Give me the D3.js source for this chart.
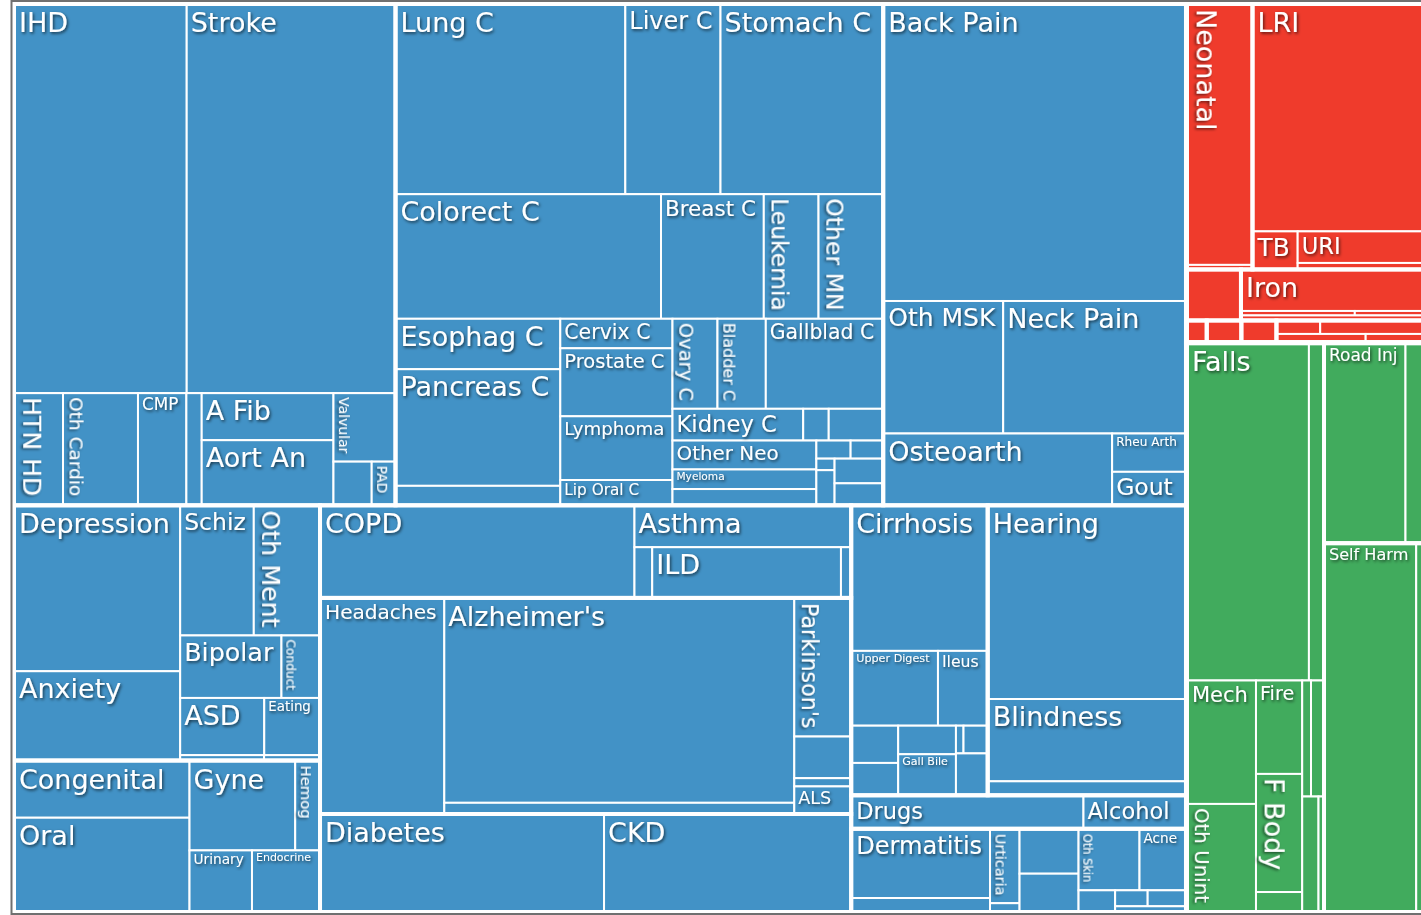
<!DOCTYPE html>
<html><head><meta charset="utf-8">
<script src="https://cdn.jsdelivr.net/npm/d3@7"></script>
<style>
html,body{margin:0;padding:0;background:#fff;}
svg{display:block;}
text.lbl{fill:#fff;font-family:'DejaVu Sans',Verdana,sans-serif;pointer-events:none;}
</style></head><body>
<svg id="chart" width="1421" height="915"></svg>
<script>
// ---------------- DATA (DALYs, thousands) ----------------
const level1Names = ["Non-communicable", "Communicable", "Injuries"];
const level1Colors = ["#4292c6", "#ef3b2c", "#41ab5d"];

const cardioCauses = ["IHD","Stroke","HTN HD","Oth Cardio","CMP","Endocarditis","A Fib","Aort An","Valvular","Rheumatic HD","PAD"];
const cardioValues = [677.8,814.7,56.1,84.1,54.3,17.2,62.0,85.8,42.5,16.7,10.4];

const neoplasmCauses = ["Lung C","Liver C","Stomach C","Colorect C","Breast C","Leukemia","Other MN","Esophag C","Pancreas C","Oth Pharynx C","Cervix C","Prostate C","Lymphoma","Lip Oral C","Ovary C","Bladder C","Gallblad C","Kidney C","Testicular C","Brain C","Other Neo","Myeloma","Larynx C","Thyroid C","Uterine C","Mesothelioma","Hodgkin","NM Skin C","Melanoma"];
const neoplasmValues = [439.4,182.0,311.1,330.8,128.1,68.2,80.6,83.1,192.2,32.1,33.1,76.3,71.5,28.4,40.5,43.5,105.7,41.5,8.1,17.3,41.6,28.2,23.4,6.2,5.9,2.1,6.4,12.0,10.7];

const mskCauses = ["Back Pain","Oth MSK","Neck Pain","Osteoarth","Rheu Arth","Gout"];
const mskValues = [903.8,159.0,242.9,164.4,28.5,24.9];

const mentalCauses = ["Depression","Anxiety","Schiz","Oth Ment","Bipolar","Conduct","ASD","Eating","ADHD","Idiopathic ID"];
const mentalValues = [277.4,149.3,95.8,86.2,63.3,24.1,48.1,31.9,4.5,3.0];

const otherNcdCauses = ["Congenital","Oral","Gyne","Hemog","Urinary","Endocrine"];
const otherNcdValues = [101.0,168.2,95.0,22.3,39.1,42.6];

const respCauses = ["COPD","Asthma","Pneumoconiosis","ILD","Oth Resp"];
const respValues = [291.2,90.8,9.0,95.7,5.2];

const neuroCauses = ["Headaches","Alzheimer's","Oth Neuro","Parkinson's","Epilepsy","MS","ALS"];
const neuroValues = [268.6,717.2,39.2,78.9,23.7,4.7,15.7];

const diabCauses = ["Diabetes","CKD"];
const diabValues = [281.2,244.7];

const digestCauses = ["Cirrhosis","Upper Digest","Ileus","Appendicitis","Pancreatitis","Inflam Bowel","Gall Bile","Vasc Intest","Hernia","Oth Digest"];
const digestValues = [198.7,64.9,37.2,17.5,15.2,16.5,23.7,2.1,6.7,13.3];

const senseCauses = ["Hearing","Blindness","Oth Sense"];
const senseValues = [385.1,163.6,27.8];

const substCauses = ["Drugs","Alcohol"];
const substValues = [77.8,34.5];

const skinCauses = ["Dermatitis","Psoriasis","Urticaria","Decubitus","Fungal Skin","Bacterial Skin","Oth Skin","Acne","Scabies","Pruritus","Viral Skin","Alopecia"];
const skinValues = [96.1,20.8,22.0,2.9,26.5,23.2,37.5,28.9,8.3,5.2,6.2,4.8];

const matNeoCauses = ["Neonatal","Maternal"];
const matNeoValues = [172.9,3.0];
const respInfCauses = ["LRI","TB","URI","Otitis"];
const respInfValues = [391.7,17.2,39.9,8.2];
const entericCauses = ["Diarrheal"];
const entericValues = [27.8];
const nutritionCauses = ["Iron","Protein-Energy","Vit A","Oth Nutr"];
const nutritionValues = [76.0,5.1,3.1,9.2];
const hivCauses = ["HIV/AIDS"];
const hivValues = [4.5];
const ntdCauses = ["Malaria"];
const ntdValues = [7.7];
const meningCauses = ["Meningitis"];
const meningValues = [7.8];
const otherInfCauses = ["Encephalitis","Hepatitis","Measles","Oth Infect"];
const otherInfValues = [5.9,14.0,7.8,5.1];

const unintCauses = ["Falls","Drowning","Mech","Oth Unint","Fire","F Body","Poisoning","Animal","Nat Disaster","Adverse Effects","Env Heat"];
const unintValues = [413.6,51.0,85.8,75.8,43.2,54.6,9.7,10.2,15.1,19.0,6.4];
const transportCauses = ["Road Inj","Oth Transport"];
const transportValues = [163.4,37.1];
const selfHarmCauses = ["Self Harm","Violence"];
const selfHarmValues = [341.0,28.8];

// causes whose label is not printed in the picture
const unlabeledCauses = ["Endocarditis","Rheumatic HD","Oth Pharynx C","Testicular C","Brain C","Larynx C","Thyroid C","Uterine C","Mesothelioma","Hodgkin","NM Skin C","Melanoma","ADHD","Idiopathic ID","Pneumoconiosis","Oth Resp","Oth Neuro","Epilepsy","MS","Appendicitis","Pancreatitis","Inflam Bowel","Vasc Intest","Hernia","Oth Digest","Oth Sense","Psoriasis","Decubitus","Fungal Skin","Bacterial Skin","Scabies","Pruritus","Viral Skin","Alopecia","Maternal","Otitis","Diarrheal","Protein-Energy","Vit A","Oth Nutr","HIV/AIDS","Malaria","Meningitis","Encephalitis","Hepatitis","Measles","Oth Infect","Drowning","Poisoning","Animal","Nat Disaster","Adverse Effects","Env Heat","Oth Transport","Violence"];

// row arrangement (strip order/orientation) used by the tiling for each group
const tileRows = {
  "All causes": "V1 H1 H1",
  "Non-communicable": "H3 V2 V3 H2 H1 H1",
  "Communicable": "H2 H2 H4",
  "Injuries": "V1 H1 H1",
  "Cardiovascular": "H2 V1 V1 V1 V1 V2 H1 H2",
  "Neoplasms": "H3 H4 V3 V4 H3 H3 V3 H2 V2 H1 H1",
  "Musculoskeletal": "H1 H2 V1 H1 H1",
  "Mental": "V2 H2 H2 H2 H2",
  "Other NCD": "V2 H2 H2",
  "Chronic Respiratory": "V1 H1 H3",
  "Neurological": "V1 V2 H1 H1 H1 H1",
  "Diabetes & CKD": "H2",
  "Digestive": "H1 H2 V2 V2 H2 H1",
  "Sense Organ": "H1 H1 H1",
  "Substance Use": "H2",
  "Skin": "V2 V2 V2 H2 V1 H2 H1",
  "Maternal & Neonatal": "H1 H1",
  "Resp Infections & TB": "H1 V1 H1 H1",
  "Nutritional": "H1 H2 H1",
  "Other Infectious": "H2 H2",
  "Unintentional": "H2 V2 V3 H2 H2",
  "Transport": "H2",
  "Self-harm & Violence": "H2"
};

// ---------------- HIERARCHY ----------------
function group(name, causes, values) {
  return {name, children: causes.map((c, i) => ({name: c, value: values[i]}))};
}
const data = {name: "All causes", children: [
  {name: level1Names[0], children: [
    group("Cardiovascular", cardioCauses, cardioValues),
    group("Neoplasms", neoplasmCauses, neoplasmValues),
    group("Musculoskeletal", mskCauses, mskValues),
    group("Mental", mentalCauses, mentalValues),
    group("Other NCD", otherNcdCauses, otherNcdValues),
    group("Chronic Respiratory", respCauses, respValues),
    group("Neurological", neuroCauses, neuroValues),
    group("Diabetes & CKD", diabCauses, diabValues),
    group("Digestive", digestCauses, digestValues),
    group("Sense Organ", senseCauses, senseValues),
    group("Substance Use", substCauses, substValues),
    group("Skin", skinCauses, skinValues)
  ]},
  {name: level1Names[1], children: [
    group("Maternal & Neonatal", matNeoCauses, matNeoValues),
    group("Resp Infections & TB", respInfCauses, respInfValues),
    group("Enteric", entericCauses, entericValues),
    group("Nutritional", nutritionCauses, nutritionValues),
    group("HIV & STIs", hivCauses, hivValues),
    group("NTDs & Malaria", ntdCauses, ntdValues),
    group("Meningitis grp", meningCauses, meningValues),
    group("Other Infectious", otherInfCauses, otherInfValues)
  ]},
  {name: level1Names[2], children: [
    group("Unintentional", unintCauses, unintValues),
    group("Transport", transportCauses, transportValues),
    group("Self-harm & Violence", selfHarmCauses, selfHarmValues)
  ]}
]};

// ---------------- LAYOUT ----------------
function rowTile(node, x0, y0, x1, y1) {
  const spec = tileRows[node.data.name];
  if (!spec) return d3.treemapSquarify(node, x0, y0, x1, y1);
  const kids = node.children;
  let i = 0, remaining = node.value;
  spec.split(" ").forEach(tok => {
    const n = +tok.slice(1);
    const row = kids.slice(i, i + n); i += n;
    const v = d3.sum(row, d => d.value);
    const part = {children: row, value: v};
    if (tok[0] === "H") {
      const yy = remaining > 0 ? y0 + (y1 - y0) * v / remaining : y1;
      d3.treemapDice(part, x0, y0, x1, yy);
      y0 = yy;
    } else {
      const xx = remaining > 0 ? x0 + (x1 - x0) * v / remaining : x1;
      d3.treemapSlice(part, x0, y0, xx, y1);
      x0 = xx;
    }
    remaining -= v;
  });
}

const W = 1411, H = 910, OX = 13, OY = 3;
const root = d3.hierarchy(data).sum(d => d.value || 0);
d3.treemap().size([W, H]).tile(rowTile).round(false)(root);

const color = d3.scaleOrdinal().domain(level1Names).range(level1Colors);
const strokeByDepth = {0: 6, 1: 5, 2: 4};
const leafStroke = 2;

const svg = d3.select("#chart");
const defs = svg.append("defs");
const f = defs.append("filter").attr("id", "shadow").attr("x", "-20%").attr("y", "-20%").attr("width", "140%").attr("height", "140%");
f.append("feDropShadow").attr("dx", 1.2).attr("dy", 1.6).attr("stdDeviation", 1.5)
  .attr("flood-color", "#000").attr("flood-opacity", 0.65);

const g = svg.append("g").attr("transform", `translate(${OX},${OY})`);
const leaves = root.leaves();

g.selectAll("rect.leaf").data(leaves).join("rect")
  .attr("class", "leaf")
  .attr("x", d => d.x0).attr("y", d => d.y0)
  .attr("width", d => Math.max(0, d.x1 - d.x0)).attr("height", d => Math.max(0, d.y1 - d.y0))
  .attr("fill", d => color(d.ancestors().find(a => a.depth === 1).data.name))
  .attr("stroke", "#fff").attr("stroke-width", leafStroke);

[2, 1, 0].forEach(depth => {
  g.selectAll(null).data(root.descendants().filter(d => d.depth === depth && d.children)).join("rect")
    .attr("x", d => d.x0).attr("y", d => d.y0)
    .attr("width", d => d.x1 - d.x0).attr("height", d => d.y1 - d.y0)
    .attr("fill", "none").attr("stroke", "#fff").attr("stroke-width", strokeByDepth[depth]);
});

// ---------------- LABELS ----------------
const ctx = document.createElement("canvas").getContext("2d");
ctx.font = "100px 'DejaVu Sans'";
const emWidth = t => ctx.measureText(t).width / 100;
const hidden = new Set(unlabeledCauses);
const eps = 0.01;

function visibleRect(d) {
  let l = leafStroke / 2, t = l, r = l, b = l;
  d.ancestors().slice(1).forEach(a => {
    const s = strokeByDepth[a.depth] / 2;
    if (Math.abs(a.x0 - d.x0) < eps) l = Math.max(l, s);
    if (Math.abs(a.y0 - d.y0) < eps) t = Math.max(t, s);
    if (Math.abs(a.x1 - d.x1) < eps) r = Math.max(r, s);
    if (Math.abs(a.y1 - d.y1) < eps) b = Math.max(b, s);
  });
  return {x0: d.x0 + l, y0: d.y0 + t, x1: d.x1 - r, y1: d.y1 - b};
}

const labelG = g.append("g");
leaves.forEach(d => {
  const name = d.data.name;
  if (hidden.has(name)) return;
  const v = visibleRect(d);
  const w = v.x1 - v.x0, h = v.y1 - v.y0;
  const em = emWidth(name);
  const fsH = Math.min(27, (w - 10) / em, h - 7);
  const fsR = Math.min(27, (h - 10) / em, w - 7);
  const rot = fsH < 12.5 && fsR > fsH * 0.9;
  const fs = rot ? fsR : fsH;
  if (fs < 9.5) return;
  const t = labelG.append("text").attr("class", "lbl")
    .attr("filter", "url(#shadow)")
    .style("font-size", fs.toFixed(1) + "px")
    .text(name);
  if (rot) {
    t.attr("transform", `translate(${v.x0 + 0.25 * fs + 1},${v.y0 + 3}) rotate(90)`);
  } else {
    t.attr("x", v.x0 + 3).attr("y", v.y0 + fs - 1);
  }
});

// outer frame
svg.append("rect").attr("x", 11.5).attr("y", 1).attr("width", 1430).attr("height", 913)
  .attr("fill", "none").attr("stroke", "#707070").attr("stroke-width", 2);
</script>
</body></html>
